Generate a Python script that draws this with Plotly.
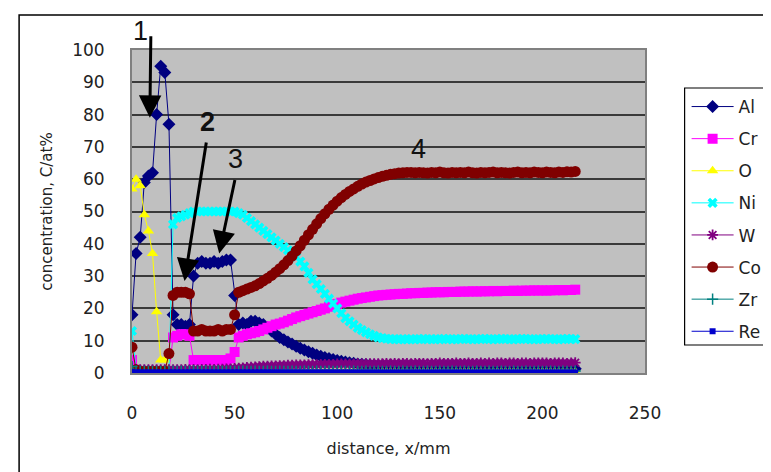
import plotly.graph_objects as go

# sampling positions, mm
distance = list(range(0, 217, 2))

al = [18, 37, 42, 59, 61, 62, 80, 95, 93, 77,
      18, 15, 15, 14.5, 15, 30, 34, 34.5, 34, 34,
      34.5, 34, 34.5, 35, 35, 24, 15, 15.5, 15, 16,
      16, 15.5, 15, 14, 13, 12, 11, 10.3, 9.6, 9,
      8.3, 7.7, 7.1, 6.6, 6.1, 5.6, 5.2, 4.8, 4.5, 4.2,
      3.9, 3.6, 3.4, 3.2, 3.0, 2.8, 2.7, 2.6, 2.5, 2.4,
      2.3, 2.2, 2.1, 2.0, 2.0, 1.9, 1.9, 1.8, 1.8, 1.8,
      1.7, 1.8, 1.7, 1.7, 1.6, 1.7, 1.6, 1.6, 1.7, 1.6,
      1.6, 1.5, 1.6, 1.5, 1.6, 1.5, 1.5, 1.6, 1.5, 1.5,
      1.5, 1.4, 1.5, 1.5, 1.4, 1.5, 1.4, 1.4, 1.5, 1.4,
      1.4, 1.4, 1.3, 1.4, 1.4, 1.3, 1.4, 1.3, 1.3]

cr = [4, 1, 0.5, 0.5, 0.5, 0.5, 0.5, 0.5, 0.5, 0.5,
      11, 11.5, 12, 12, 11.5, 4, 4, 4, 4, 4,
      4, 4, 4, 4, 4.5, 6.5, 11, 11.5, 12, 12.3,
      12.6, 13, 13.5, 14, 14.5, 15, 15.3, 15.7, 16.2, 16.7,
      17.2, 17.6, 18, 18.4, 18.8, 19.2, 19.6, 20, 20.5, 21,
      21.4, 21.8, 22.1, 22.4, 22.7, 23, 23.2, 23.4, 23.6, 23.8,
      24, 24.1, 24.2, 24.3, 24.4, 24.5, 24.5, 24.6, 24.7, 24.7,
      24.8, 24.8, 24.9, 24.9, 25, 25, 25, 25.1, 25.1, 25.1,
      25.2, 25.2, 25.2, 25.3, 25.2, 25.3, 25.3, 25.3, 25.4, 25.3,
      25.4, 25.4, 25.4, 25.5, 25.4, 25.5, 25.5, 25.5, 25.6, 25.5,
      25.6, 25.5, 25.6, 25.6, 25.7, 25.6, 25.7, 25.7, 25.8]

o = [57, 60, 58, 49, 44, 37, 19, 4, 4, 1,
     0.3, 0.3, 0.3, 0.3, 0.3, 0.3, 0.3, 0.3, 0.3, 0.3,
     0.3, 0.3, 0.3, 0.3, 0.3, 0.3, 0.3, 0.3, 0.3, 0.3,
     0.3, 0.3, 0.3, 0.3, 0.3, 0.3, 0.3, 0.3, 0.3, 0.3,
     0.3, 0.3, 0.3, 0.3, 0.3, 0.3, 0.3, 0.3, 0.3, 0.3,
     0.3, 0.3, 0.3, 0.3, 0.3, 0.3, 0.3, 0.3, 0.3, 0.3,
     0.3, 0.3, 0.3, 0.3, 0.3, 0.3, 0.3, 0.3, 0.3, 0.3,
     0.3, 0.3, 0.3, 0.3, 0.3, 0.3, 0.3, 0.3, 0.3, 0.3,
     0.3, 0.3, 0.3, 0.3, 0.3, 0.3, 0.3, 0.3, 0.3, 0.3,
     0.3, 0.3, 0.3, 0.3, 0.3, 0.3, 0.3, 0.3, 0.3, 0.3,
     0.3, 0.3, 0.3, 0.3, 0.3, 0.3, 0.3, 0.3, 0.3]

ni = [13, 1, 0.5, 0.5, 0.5, 0.5, 0.5, 0.5, 0.5, 0.5,
      46, 48, 48.5, 49, 49.5, 50, 50, 50, 50, 50,
      50, 50, 50, 50, 50, 50, 49.5, 49, 48, 47,
      46, 45, 44, 43, 42, 41, 40, 39, 38, 37,
      36, 34.5, 33, 31, 29, 27.5, 26, 24.5, 23, 21.5,
      20, 18.5, 17, 16, 15, 14, 13.3, 12.6, 12, 11.5,
      11, 10.8, 10.6, 10.5, 10.5, 10.4, 10.5, 10.4, 10.5, 10.4,
      10.5, 10.6, 10.4, 10.5, 10.5, 10.4, 10.6, 10.5, 10.4, 10.5,
      10.5, 10.6, 10.5, 10.4, 10.5, 10.5, 10.6, 10.5, 10.4, 10.5,
      10.6, 10.5, 10.5, 10.4, 10.5, 10.6, 10.5, 10.5, 10.4, 10.5,
      10.5, 10.6, 10.5, 10.5, 10.4, 10.5, 10.6, 10.5, 10.5]

w = [1.5, 1, 1, 1, 1, 1, 1, 1, 1, 1,
     1, 1, 1, 1.1, 1, 1.1, 1, 1.1, 1.1, 1.2,
     1.1, 1.2, 1.2, 1.3, 1.3, 1.4, 1.5, 1.6, 1.7, 1.8,
     1.9, 2.0, 2.1, 2.1, 2.2, 2.2, 2.3, 2.3, 2.4, 2.4,
     2.5, 2.5, 2.5, 2.6, 2.6, 2.6, 2.7, 2.7, 2.7, 2.7,
     2.8, 2.8, 2.8, 2.8, 2.8, 2.9, 2.8, 2.9, 2.9, 2.9,
     2.9, 2.9, 3.0, 2.9, 3.0, 2.9, 3.0, 3.0, 2.9, 3.0,
     3.0, 3.0, 2.9, 3.0, 3.0, 3.1, 3.0, 3.0, 3.0, 3.1,
     3.0, 3.0, 3.1, 3.0, 3.0, 3.1, 3.0, 3.1, 3.0, 3.1,
     3.1, 3.0, 3.1, 3.1, 3.0, 3.1, 3.1, 3.0, 3.1, 3.1,
     3.1, 3.1, 3.0, 3.1, 3.1, 3.1, 3.0, 3.1, 3.2]

co = [8, 1, 0.5, 0.5, 0.5, 0.5, 0.5, 0.5, 0.5, 6,
      24, 25, 25, 25, 24.5, 13, 13, 13.5, 13, 13,
      13, 13.5, 13, 13.5, 13.5, 18, 25, 25.5, 26, 26.5,
      27, 27.7, 28.5, 29.3, 30.2, 31.2, 32.3, 33.5, 34.8, 36.2,
      37.8, 39.4, 41.1, 42.8, 44.5, 46.2, 47.8, 49.3, 50.7, 52,
      53.2, 54.3, 55.3, 56.2, 57, 57.8, 58.5, 59.1, 59.6, 60.1,
      60.5, 60.9, 61.2, 61.5, 61.7, 61.9, 62, 62.1, 62.1, 62,
      62.1, 62, 61.9, 62.1, 62, 62.2, 62, 61.9, 62.1, 62,
      62.1, 62, 62.2, 62, 61.9, 62.1, 62, 62.1, 62.2, 62,
      62.1, 62, 61.9, 62.1, 62.2, 62, 62.1, 62, 62.2, 62.1,
      62, 62.2, 62.1, 62, 62.2, 62.1, 62.3, 62.2, 62.4]

zr = [2, 0.6, 0.5, 0.5, 0.5, 0.5, 0.5, 0.5, 0.5, 0.5,
      0.6, 0.5, 0.6, 0.5, 0.5, 0.6, 0.5, 0.5, 0.6, 0.5,
      0.5, 0.6, 0.5, 0.5, 0.6, 0.5, 0.5, 0.6, 0.5, 0.5,
      0.6, 0.5, 0.5, 0.6, 0.5, 0.5, 0.6, 0.5, 0.5, 0.6,
      0.5, 0.5, 0.6, 0.5, 0.5, 0.6, 0.5, 0.5, 0.6, 0.5,
      0.5, 0.6, 0.5, 0.5, 0.6, 0.5, 0.5, 0.6, 0.5, 0.5,
      0.6, 0.5, 0.5, 0.6, 0.5, 0.5, 0.6, 0.5, 0.5, 0.6,
      0.5, 0.5, 0.6, 0.5, 0.5, 0.6, 0.5, 0.5, 0.6, 0.5,
      0.5, 0.6, 0.5, 0.5, 0.6, 0.5, 0.5, 0.6, 0.5, 0.5,
      0.6, 0.5, 0.5, 0.6, 0.5, 0.5, 0.6, 0.5, 0.5, 0.6,
      0.5, 0.5, 0.6, 0.5, 0.5, 0.6, 0.5, 0.5, 0.6]

re = [0.3, 0.2, 0.2, 0.2, 0.2, 0.2, 0.2, 0.2, 0.2, 0.2,
      0.2, 0.2, 0.2, 0.2, 0.2, 0.2, 0.2, 0.2, 0.2, 0.2,
      0.2, 0.2, 0.2, 0.2, 0.2, 0.2, 0.2, 0.2, 0.2, 0.2,
      0.2, 0.2, 0.2, 0.2, 0.2, 0.2, 0.2, 0.2, 0.2, 0.2,
      0.2, 0.2, 0.2, 0.2, 0.2, 0.2, 0.2, 0.2, 0.2, 0.2,
      0.2, 0.2, 0.2, 0.2, 0.2, 0.2, 0.2, 0.2, 0.2, 0.2,
      0.2, 0.2, 0.2, 0.2, 0.2, 0.2, 0.2, 0.2, 0.2, 0.2,
      0.2, 0.2, 0.2, 0.2, 0.2, 0.2, 0.2, 0.2, 0.2, 0.2,
      0.2, 0.2, 0.2, 0.2, 0.2, 0.2, 0.2, 0.2, 0.2, 0.2,
      0.2, 0.2, 0.2, 0.2, 0.2, 0.2, 0.2, 0.2, 0.2, 0.2,
      0.2, 0.2, 0.2, 0.2, 0.2, 0.2, 0.2, 0.2, 0.2]

x_ticks = [0, 50, 100, 150, 200, 250]
y_ticks = [0, 10, 20, 30, 40, 50, 60, 70, 80, 90, 100]

series = [
    ("Al", al, "#000080", "diamond", 10, None),
    ("Cr", cr, "#FF00FF", "square", 10, None),
    ("O", o, "#FFFF00", "triangle-up", 10, None),
    ("Ni", ni, "#00FFFF", "x", 9, None),
    ("W", w, "#800080", "asterisk", 9, 1.8),
    ("Co", co, "#800000", "circle", 11, None),
    ("Zr", zr, "#008080", "cross-thin", 8, 1.5),
    ("Re", re, "#0000CC", "square", 6, None),
]

fig = go.Figure()
for name, vals, col, sym, size, lw in series:
    marker = dict(symbol=sym, size=size, color=col)
    if lw is not None:
        marker["line"] = dict(color=col, width=lw)
    else:
        marker["line"] = dict(width=0)
    fig.add_trace(go.Scatter(
        x=distance, y=vals, name=name, mode="lines+markers",
        line=dict(color=col, width=1), marker=marker,
        legendgroup=name,
    ))

font_family = "DejaVu Sans, Arial, sans-serif"

# pixel helpers (plot area 124..642 x, 42..365 y)
def px(p):
    return (p - 124) / 518.0

def py(p):
    return (365 - p) / 323.0

fig.update_layout(
    width=771, height=472,
    margin=dict(l=124, r=129, t=42, b=107),
    paper_bgcolor="white",
    plot_bgcolor="#C0C0C0",
    font=dict(family=font_family, size=16, color="#222222"),
    showlegend=True,
    legend=dict(
        x=px(684), y=py(81), xanchor="left", yanchor="top",
        bgcolor="rgba(0,0,0,0)", borderwidth=0,
        font=dict(size=17, color="#222222"),
        tracegroupgap=7, itemwidth=42,
    ),
    xaxis=dict(
        range=[0, 250], tickvals=x_ticks, showgrid=False, zeroline=False,
        showline=True, linecolor="#808080", linewidth=2, mirror=True,
        ticklabelstandoff=24, tickfont=dict(size=17),
        title=dict(text="distance, x/mm", font=dict(size=16), standoff=20),
    ),
    yaxis=dict(
        range=[0, 100], tickvals=y_ticks, showgrid=True, gridcolor="#3a3a3a",
        gridwidth=2, zeroline=False,
        showline=True, linecolor="#808080", linewidth=2, mirror=True,
        ticklabelstandoff=22, tickfont=dict(size=17),
        title=dict(text="concentration, C/at%", font=dict(size=15), standoff=16),
    ),
)

# outer chart frame
fig.add_shape(type="rect", xref="paper", yref="paper",
              x0=px(10), x1=px(800), y0=py(500), y1=py(7),
              line=dict(color="black", width=1.5), layer="below")
# legend frame (extends past the right edge as in the original)
fig.add_shape(type="rect", xref="paper", yref="paper",
              x0=px(682), x1=px(800), y0=py(337), y1=py(80),
              line=dict(color="black", width=1.2), fillcolor="white",
              layer="below")

# labels and arrows
labels = [("1", 3.9, py(23), False), ("2", 36.7, py(114), True),
          ("3", 50.2, py(151), False), ("4", 139.5, py(141), False)]
for txt, lx, ly, bold in labels:
    fig.add_annotation(x=lx, y=ly, xref="x", yref="paper",
                       xanchor="center", yanchor="middle",
                       text=f"<b>{txt}</b>" if bold else txt,
                       showarrow=False,
                       font=dict(size=27, color="#111111",
                                 family="Liberation Sans, Arial, sans-serif"))

arrows = [(8.7, 79, 1, -83), (25.6, 28.5, 22, -140), (42.5, 37, 16, -75)]
for hx, hy, ax, ay in arrows:
    fig.add_annotation(x=hx, y=hy, xref="x", yref="y", text="",
                       showarrow=True, ax=ax, ay=ay, arrowcolor="black",
                       arrowwidth=3, arrowhead=2, arrowsize=1.5)

fig.write_html("out.html")
